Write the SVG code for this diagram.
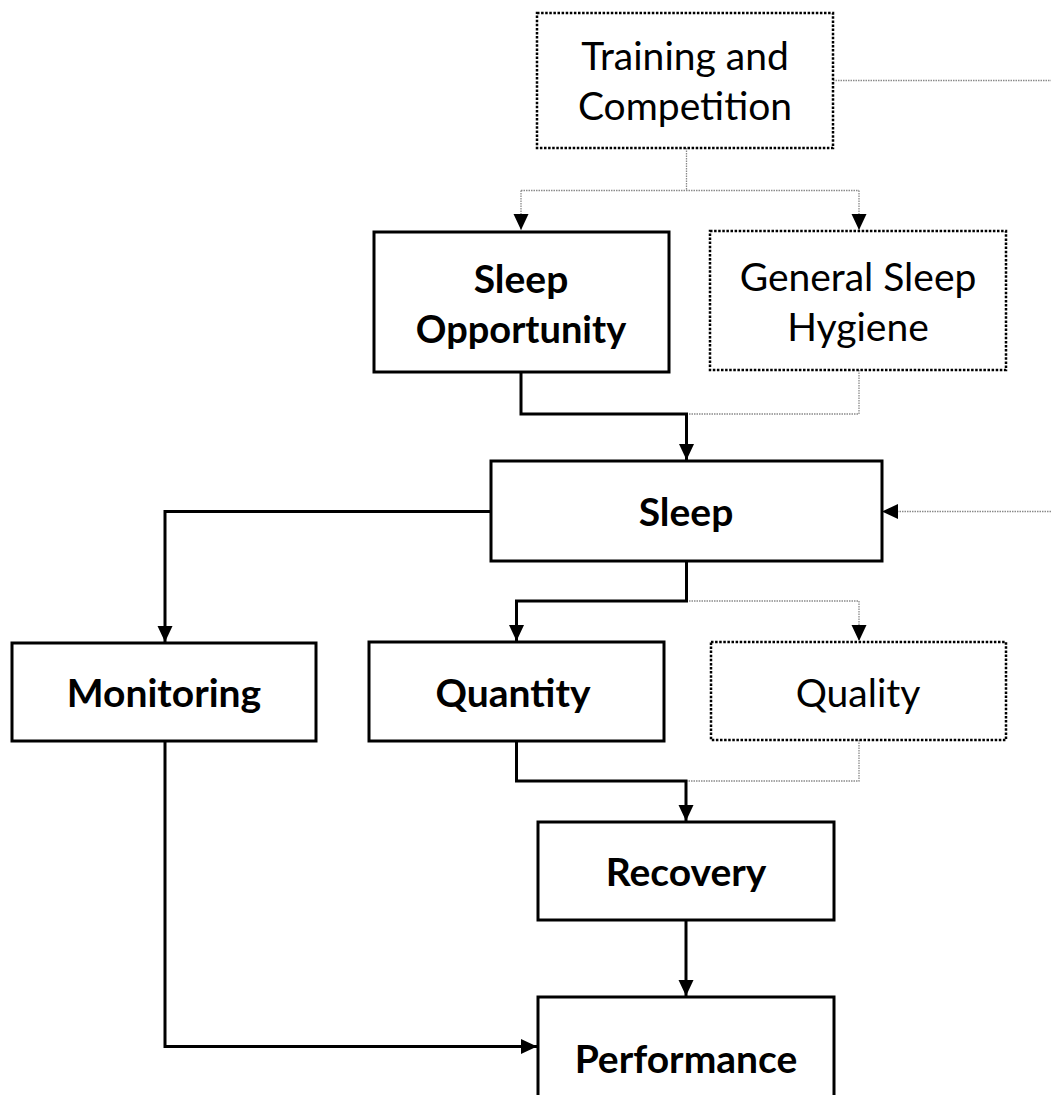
<svg xmlns="http://www.w3.org/2000/svg" width="1051" height="1095" viewBox="0 0 1051 1095">
<style>
.box{fill:#fff;stroke:#000;stroke-width:3}
.dot{fill:#fff;stroke:#000;stroke-width:2.5;stroke-dasharray:2.5 1.6}
.t{font-family:Lato,"Open Sans",sans-serif;font-size:39px;fill:#000;text-anchor:middle}
.b{font-weight:bold}
.c{fill:none;stroke:#000;stroke-width:3}
.g{fill:none;stroke:#8a8a8a;stroke-width:1.3;stroke-dasharray:1.5 1}
</style>
<defs>
<marker id="ah" markerUnits="userSpaceOnUse" markerWidth="17" markerHeight="17" viewBox="0 0 17 17" refX="16" refY="8.5" orient="auto">
<path d="M0,1 L16,8.5 L0,16 Z" fill="#000"/>
</marker>
</defs>
<g id="connectors">
<path class="g" d="M686.5,148 V190.5 M521,190.5 H859 M833,80.5 H1051 M859,370 V414 H686.5 M686.5,601 H859 M859,740 V781 H686"/>
<path class="g" d="M521,190.5 V230" marker-end="url(#ah)"/>
<path class="g" d="M859,190.5 V230" marker-end="url(#ah)"/>
<path class="g" d="M1051,511.5 H882" marker-end="url(#ah)"/>
<path class="g" d="M859,601 V641" marker-end="url(#ah)"/>
<path class="c" d="M521,372 V414 H686.5 V460" marker-end="url(#ah)"/>
<path class="c" d="M491,511.5 H165 V642" marker-end="url(#ah)"/>
<path class="c" d="M686.5,561 V601 H516.5 V641" marker-end="url(#ah)"/>
<path class="c" d="M516.5,741 V781 H686 V821" marker-end="url(#ah)"/>
<path class="c" d="M686,920 V996" marker-end="url(#ah)"/>
<path class="c" d="M165,741 V1046.5 H537" marker-end="url(#ah)"/>
</g>
<g id="training">
<rect class="dot" x="537" y="13" width="296" height="135"/>
<text class="t" x="685" y="70">Training and</text>
<text class="t" x="685" y="120">Competition</text>
</g>
<g id="sleep-opportunity">
<rect class="box" x="374" y="232" width="295" height="140"/>
<text class="t b" x="521" y="293">Sleep</text>
<text class="t b" x="521" y="343" style="font-size:38px">Opportunity</text>
</g>
<g id="general-sleep-hygiene">
<rect class="dot" x="710" y="231" width="296" height="139"/>
<text class="t" x="858" y="291">General Sleep</text>
<text class="t" x="858" y="341">Hygiene</text>
</g>
<g id="sleep">
<rect class="box" x="491" y="461" width="391" height="100"/>
<text class="t b" x="686" y="526">Sleep</text>
</g>
<g id="monitoring">
<rect class="box" x="12" y="643" width="304" height="98"/>
<text class="t b" x="164" y="707">Monitoring</text>
</g>
<g id="quantity">
<rect class="box" x="369" y="642" width="295" height="99"/>
<text class="t b" x="513" y="707">Quantity</text>
</g>
<g id="quality">
<rect class="dot" x="711" y="642" width="295" height="98"/>
<text class="t" x="858" y="707">Quality</text>
</g>
<g id="recovery">
<rect class="box" x="538" y="822" width="296" height="98"/>
<text class="t b" x="686" y="886">Recovery</text>
</g>
<g id="performance">
<rect class="box" x="538" y="997" width="296" height="110"/>
<text class="t b" x="686" y="1073">Performance</text>
</g>
</svg>
